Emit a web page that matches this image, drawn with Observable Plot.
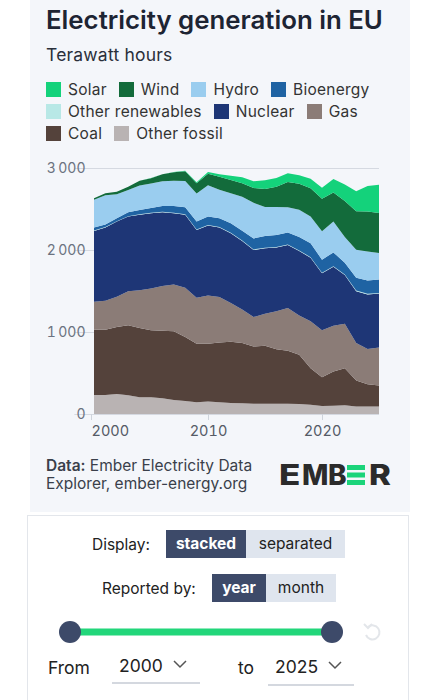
<!DOCTYPE html>
<html>
<head>
<meta charset="utf-8">
<script src="https://cdn.jsdelivr.net/npm/d3@7"></script>
<script src="https://cdn.jsdelivr.net/npm/@observablehq/plot@0.6"></script>
<style>
  html, body { margin: 0; padding: 0; background: #ffffff; }
  body { width: 437px; height: 700px; position: relative; overflow: hidden;
         font-family: Inter, "Noto Sans", sans-serif; color: #222; }
  .card { position: absolute; left: 30px; top: 0; width: 380px; height: 512px; background: #f4f6fa; }
  .title { position: absolute; left: 46px; top: 4px; font-size: 25.8px; font-weight: 600; color: #1d2433; letter-spacing: 0px; white-space: nowrap; }
  .subtitle { position: absolute; left: 46px; top: 44px; font-size: 17.5px; letter-spacing: 0.2px; color: #2a2f3a; }
  .legend { position: absolute; left: 46px; top: 80px; width: 345px; display: flex; flex-wrap: wrap; row-gap: 4px; column-gap: 12px; }
  .legend .item { display: flex; align-items: center; font-size: 15.5px; letter-spacing: 0.25px; color: #333; height: 18px; white-space: nowrap; }
  .legend .sw { width: 15px; height: 15px; margin-right: 7px; }
  #chart { position: absolute; left: 30px; top: 150px; }
  .source { position: absolute; left: 46px; top: 457px; font-size: 15.5px; line-height: 17.5px; color: #3a3f4a; }
  .source b { font-weight: 600; }
  .logo { position: absolute; left: 276px; top: 456px; }
  .controls { position: absolute; left: 27px; top: 515px; width: 382px; height: 200px; background: #fff; border: 1px solid #e3e6eb; box-sizing: border-box; }
  .lbl { position: absolute; font-size: 15.5px; color: #222; }
  .btn { position: absolute; height: 28px; line-height: 28px; font-size: 15.5px; text-align: center; }
  .on { background: #3d4a69; color: #fff; font-weight: 700; }
  .off { background: #dfe5ee; color: #222; }
  .sel { position: absolute; font-size: 17.5px; color: #222; }
  .uline { position: absolute; height: 2px; background: #d4d8df; }
</style>
</head>
<body>
<div class="card"></div>
<div class="title">Electricity generation in EU</div>
<div class="subtitle">Terawatt hours</div>
<div class="legend" id="legend"></div>
<div id="chart"></div>
<div class="source"><b>Data:</b> Ember Electricity Data<br>Explorer, ember-energy.org</div>
<svg class="logo" width="130" height="40" viewBox="0 0 130 40">
  <g font-family="Inter, 'DejaVu Sans', sans-serif" font-size="28" font-weight="800" fill="#2b2b2b">
    <text transform="translate(3,29) scale(1.25,1)">E</text>
    <text x="26" y="29">M</text>
    <text x="52" y="29">B</text>
    <text transform="translate(93,29) scale(1.18,1)">R</text>
  </g>
  <rect x="71" y="9" width="18" height="5" fill="#1bd47a"/>
  <rect x="71" y="16.5" width="18" height="5" fill="#1bd47a"/>
  <rect x="71" y="24" width="18" height="5" fill="#1bd47a"/>
</svg>

<div class="controls"></div>
<div class="lbl" style="left:92px; top:535px;">Display:</div>
<div class="btn on" style="left:166px; top:530px; width:80px;">stacked</div>
<div class="btn off" style="left:246px; top:530px; width:99px;">separated</div>
<div class="lbl" style="left:102px; top:579px;">Reported by:</div>
<div class="btn on" style="left:212px; top:574px; width:54px;">year</div>
<div class="btn off" style="left:266px; top:574px; width:70px;">month</div>
<svg style="position:absolute; left:50px; top:615px;" width="350" height="36">
  <line x1="20" y1="17" x2="282" y2="17" stroke="#22d67a" stroke-width="7" stroke-linecap="round"/>
  <circle cx="20" cy="17" r="11" fill="#3d4a69"/>
  <circle cx="282" cy="17" r="11" fill="#3d4a69"/>
  <path d="M 318 12 A 7 7 0 1 1 316 20" fill="none" stroke="#e3e6ea" stroke-width="2"/>
  <path d="M 314 9 L 318 13 L 322 9" fill="none" stroke="#e3e6ea" stroke-width="2"/>
</svg>
<div class="sel" style="left:48px; top:657px;">From</div>
<div class="sel" style="left:119px; top:655px;">2000</div>
<svg style="position:absolute; left:172px; top:658px;" width="16" height="12"><path d="M2 3 L8 9 L14 3" fill="none" stroke="#555" stroke-width="1.5"/></svg>
<div class="uline" style="left:112px; top:682px; width:88px;"></div>
<div class="sel" style="left:238px; top:657px;">to</div>
<div class="sel" style="left:275px; top:656px;">2025</div>
<svg style="position:absolute; left:327px; top:659px;" width="16" height="12"><path d="M2 3 L8 9 L14 3" fill="none" stroke="#555" stroke-width="1.5"/></svg>
<div class="uline" style="left:268px; top:684px; width:86px;"></div>

<script>
// Annual EU electricity generation by source, TWh
const years = [2000, 2001, 2002, 2003, 2004, 2005, 2006, 2007, 2008, 2009, 2010, 2011, 2012,
               2013, 2014, 2015, 2016, 2017, 2018, 2019, 2020, 2021, 2022, 2023, 2024, 2025];
const solar = [0, 0, 0, 0, 1, 1, 2, 4, 7, 14, 20, 32, 54, 71, 83, 105, 108, 108, 105, 115, 134, 164, 202, 245, 311, 346];
const wind = [20, 25, 30, 38, 55, 65, 85, 104, 118, 125, 140, 158, 160, 165, 180, 220, 247, 306, 316, 346, 396, 355, 438, 470, 490, 489];
const hydro = [338, 356, 292, 274, 300, 300, 301, 306, 322, 341, 382, 347, 368, 415, 435, 353, 340, 309, 332, 327, 346, 376, 316, 340, 353, 322];
const bioenergy = [36, 32, 36, 46, 53, 56, 70, 82, 85, 96, 104, 108, 115, 118, 134, 145, 148, 145, 165, 168, 160, 168, 142, 157, 163, 163];
const otherRenewables = [5, 5, 5, 5, 6, 6, 6, 6, 6, 6, 6, 6, 6, 7, 7, 7, 7, 7, 7, 7, 7, 7, 7, 7, 7, 7];
const nuclear = [865, 894, 917, 910, 919, 919, 901, 869, 889, 828, 854, 846, 849, 837, 817, 796, 776, 767, 788, 775, 695, 719, 593, 633, 666, 658];
const gas = [340, 352, 369, 417, 461, 510, 544, 572, 602, 560, 587, 555, 474, 408, 359, 392, 462, 523, 478, 572, 571, 559, 542, 457, 429, 465];
const coal = [795, 795, 816, 853, 845, 816, 824, 837, 779, 714, 706, 730, 746, 734, 698, 706, 665, 645, 600, 445, 351, 416, 453, 318, 273, 257];
const otherFossil = [233, 233, 245, 228, 204, 204, 192, 171, 159, 143, 151, 143, 135, 131, 126, 126, 126, 126, 122, 114, 98, 102, 106, 90, 90, 90];

// Legend order (top-left reading order) and colours
const legendOrder = ["Solar", "Wind", "Hydro", "Bioenergy", "Other renewables", "Nuclear", "Gas", "Coal", "Other fossil"];
const sourceColors = ["#14d27b", "#136b3b", "#9acdef", "#1f63a3", "#b8e8e6", "#1e3676", "#8b7c77", "#54423b", "#b9b3b3"];
// Stacking order, bottom to top
const stackOrder = ["Other fossil", "Coal", "Gas", "Nuclear", "Other renewables", "Bioenergy", "Hydro", "Wind", "Solar"];
const yTicks = [0, 1000, 2000, 3000];
const xTicks = [2000, 2010, 2020];

const seriesBySource = {
  "Solar": solar, "Wind": wind, "Hydro": hydro, "Bioenergy": bioenergy,
  "Other renewables": otherRenewables, "Nuclear": nuclear, "Gas": gas,
  "Coal": coal, "Other fossil": otherFossil
};

const rows = [];
for (const source of stackOrder) {
  seriesBySource[source].forEach((v, i) => rows.push({year: years[i], source, value: v}));
}

// Legend
const legend = document.getElementById("legend");
legendOrder.forEach((name, i) => {
  const item = document.createElement("div");
  item.className = "item";
  item.innerHTML = `<span class="sw" style="background:${sourceColors[i]}"></span>${name}`;
  legend.appendChild(item);
});

const thin = "\u2009";
const chart = Plot.plot({
  width: 380,
  height: 296,
  marginTop: 18,
  marginLeft: 64,
  marginRight: 31,
  marginBottom: 32,
  style: {fontFamily: "Inter, 'Noto Sans', sans-serif", background: "transparent", color: "#6b7280"},
  x: {domain: [2000, 2025], label: null},
  y: {domain: [0, 3000], label: null},
  color: {domain: legendOrder, range: sourceColors},
  marks: [
    Plot.gridY(yTicks, {stroke: "#d5d9e1", strokeOpacity: 1, x1: 1998.3, x2: 2025}),
    Plot.areaY(rows, Plot.stackY({
      x: "year", y: "value", fill: "source", order: stackOrder, curve: "linear"
    })),
    Plot.ruleY([0], {stroke: "#d5d9e1", x1: 1998.3, x2: 2025}),
    Plot.axisY({ticks: yTicks, tickSize: 0, tickPadding: 9, fontSize: 14, label: null,
      tickFormat: d => d >= 1000 ? String(d).replace(/(\d)(\d{3})$/, "$1" + thin + "$2") : String(d)}),
    // first year label sits to the right of its tick, the others are centred
    Plot.axisX({ticks: [xTicks[0]], tickSize: 6, tickPadding: 5, fontSize: 14.5, stroke: "#cfd4dc",
      textAnchor: "start", dx: -3, label: null, tickFormat: d => String(d), color: "#555b66"}),
    Plot.axisX({ticks: xTicks.slice(1), tickSize: 6, tickPadding: 5, fontSize: 14.5, stroke: "#cfd4dc",
      label: null, tickFormat: d => String(d), color: "#555b66"})
  ]
});
document.getElementById("chart").appendChild(chart);
</script>
</body>
</html>
